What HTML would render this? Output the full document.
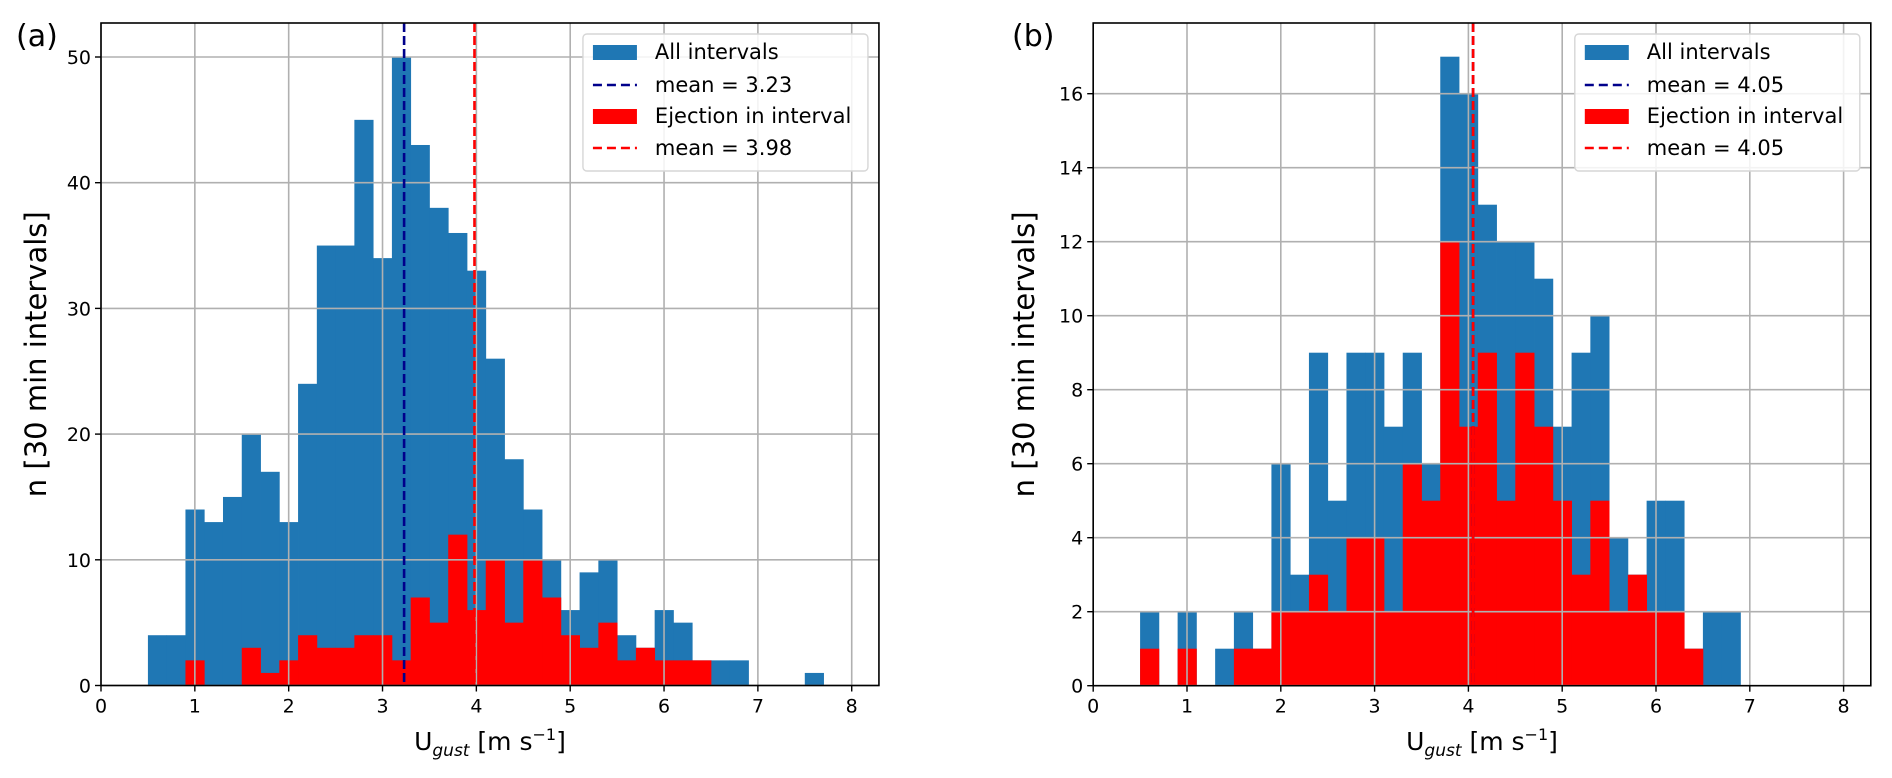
<!DOCTYPE html>
<html><head><meta charset="utf-8">
<style>
html,body{margin:0;padding:0;background:#fff;}
svg{display:block;font-family:"DejaVu Sans","Liberation Sans",sans-serif;}
</style></head>
<body>
<svg id="chart" width="1892" height="778" viewBox="0 0 1892 778" xmlns="http://www.w3.org/2000/svg"></svg>
<script>
const binStart = 0.5;
const binWidth = 0.2;
const allA = [4,4,14,13,15,20,17,13,24,35,35,45,34,50,43,38,36,33,26,18,14,10,6,9,10,4,3,6,5,2,2,2,0,0,0,1];
const ejA  = [0,0,2,0,0,3,1,2,4,3,3,4,4,2,7,5,12,6,10,5,10,7,4,3,5,2,3,2,2,2,0,0,0,0,0,0];
const allB = [2,0,2,0,1,2,1,6,3,9,5,9,9,7,9,6,17,16,13,12,12,11,7,9,10,4,3,5,5,1,2,2];
const ejB  = [1,0,1,0,0,1,1,2,2,3,2,4,4,2,6,5,12,7,9,5,9,7,5,3,5,2,3,2,2,1,0,0];
const meansA = [3.23, 3.98];
const meansB = [4.05, 4.05];
const xTicks = [0,1,2,3,4,5,6,7,8];
const yTicksA = [0,10,20,30,40,50];
const yTicksB = [0,2,4,6,8,10,12,14,16];

const NS = "http://www.w3.org/2000/svg";
const svg = document.getElementById('chart');
function mk(tag, attrs, parent, text){
  const e = document.createElementNS(NS, tag);
  for (const k in attrs) e.setAttribute(k, attrs[k]);
  if (text !== undefined) e.textContent = text;
  (parent||svg).appendChild(e);
  return e;
}

function panel(cfg){
  const g = mk('g', {});
  
  
  const xs = v => cfg.left + v * cfg.pxX;
  const ys = v => cfg.y0 - v * cfg.pxY;
  const right = cfg.left + cfg.xmax * cfg.pxX;
  const top = cfg.top;
  cfg.all.forEach((v,i)=>{
    if(!v) return;
    const x0 = xs(binStart + i*binWidth), x1 = xs(binStart + (i+1)*binWidth);
    const r = mk('rect', {x:x0, y:ys(v), width:x1-x0+0.4, height:cfg.y0-ys(v), fill:'#1f77b4'}, g);
    
    
  });
  cfg.ej.forEach((v,i)=>{
    if(!v) return;
    const x0 = xs(binStart + i*binWidth), x1 = xs(binStart + (i+1)*binWidth);
    const r = mk('rect', {x:x0, y:ys(v), width:x1-x0+0.4, height:cfg.y0-ys(v), fill:'#ff0000'}, g);
    
    
  });
  xTicks.forEach(t=>{
    const l = mk('line', {x1:xs(t), x2:xs(t), y1:top, y2:cfg.y0, stroke:'#b0b0b0', 'stroke-width':1.6}, g);
    
    
  });
  cfg.yTicks.forEach(t=>{
    const l = mk('line', {x1:cfg.left, x2:right, y1:ys(t), y2:ys(t), stroke:'#b0b0b0', 'stroke-width':1.6}, g);
    
    
  });
  const cols = ['#00008b', '#ff0000'];
  cfg.means.forEach((m,i)=>{
    const l = mk('line', {x1:xs(m), x2:xs(m), y1:top, y2:cfg.y0, stroke:cols[i], 'stroke-width':2.6, 'stroke-dasharray':'9,4'}, g);
    
    
  });
  const f = mk('rect', {x:cfg.left, y:top, width:right-cfg.left, height:cfg.y0-top, fill:'none', stroke:'#000', 'stroke-width':1.6}, g);
  
  
  xTicks.forEach(t=>{
    mk('line', {x1:xs(t), x2:xs(t), y1:cfg.y0, y2:cfg.y0+6, stroke:'#000', 'stroke-width':1.4}, g);
    const tx = mk('text', {x:xs(t), y:cfg.y0+27, 'font-size':19, 'text-anchor':'middle', fill:'#000'}, g, String(t));
    
    
  });
  cfg.yTicks.forEach(t=>{
    mk('line', {x1:cfg.left-6, x2:cfg.left, y1:ys(t), y2:ys(t), stroke:'#000', 'stroke-width':1.4}, g);
    const tx = mk('text', {x:cfg.left-10, y:ys(t)+7, 'font-size':19, 'text-anchor':'end', fill:'#000'}, g, String(t));
    
    
  });
  const cx = (cfg.left+right)/2;
  const xt = mk('text', {x:cx, y:750, 'font-size':25, 'text-anchor':'middle', fill:'#000'}, g);
  
  
  mk('tspan', {}, xt, 'U');
  mk('tspan', {'font-size':17, 'font-style':'italic', dy:6}, xt, 'gust');
  mk('tspan', {dy:-6}, xt, ' [m s');
  mk('tspan', {'font-size':16, dy:-10}, xt, '\u22121');
  mk('tspan', {dy:10}, xt, ']');
  const cy = (top+cfg.y0)/2;
  const yt = mk('text', {x:cfg.ylabX, y:cy, 'font-size':29, 'text-anchor':'middle', fill:'#000', transform:`rotate(-90 ${cfg.ylabX} ${cy})`}, g, 'n [30 min intervals]');
  
  
  const pl = mk('text', {x:cfg.tagX, y:46, 'font-size':30, fill:'#000'}, g, cfg.tag);
  
  
  const lx = right - 11 - 285, ly = 34;
  const lg = mk('g', {}, g);
  
  
  mk('rect', {x:lx, y:ly, width:285, height:137, rx:4, fill:'#fff', 'fill-opacity':0.85, stroke:'#d6d6d6', 'stroke-width':1.4}, lg);
  const labels = ['All intervals', 'mean = ' + cfg.means[0].toFixed(2), 'Ejection in interval', 'mean = ' + cfg.means[1].toFixed(2)];
  const rows = [52, 85, 116, 148];
  labels.forEach((s,i)=>{
    const ry = ly + rows[i] - 34;
    if(i%2===0){
      mk('rect', {x:lx+10, y:ry-7, width:44, height:15, fill: i===0?'#1f77b4':'#ff0000'}, lg);
    } else {
      mk('line', {x1:lx+10, x2:lx+54, y1:ry, y2:ry, stroke: i===1?'#00008b':'#ff0000', 'stroke-width':2.6, 'stroke-dasharray':'9,5'}, lg);
    }
    const t = mk('text', {x:lx+72, y:ry+7, 'font-size':21, fill:'#000'}, lg, s);
    
    
  });
}

panel({name:'panel-a', left:101, pxX:93.84, xmax:8.29, y0:685.5, pxY:12.57, top:23, all:allA, ej:ejA, means:meansA, yTicks:yTicksA, ylabX:46, tagX:16, tag:'(a)'});
panel({name:'panel-b', left:1093.2, pxX:93.8, xmax:8.29, y0:685.7, pxY:37.0, top:23, all:allB, ej:ejB, means:meansB, yTicks:yTicksB, ylabX:1034, tagX:1012, tag:'(b)'});
</script>
</body></html>
